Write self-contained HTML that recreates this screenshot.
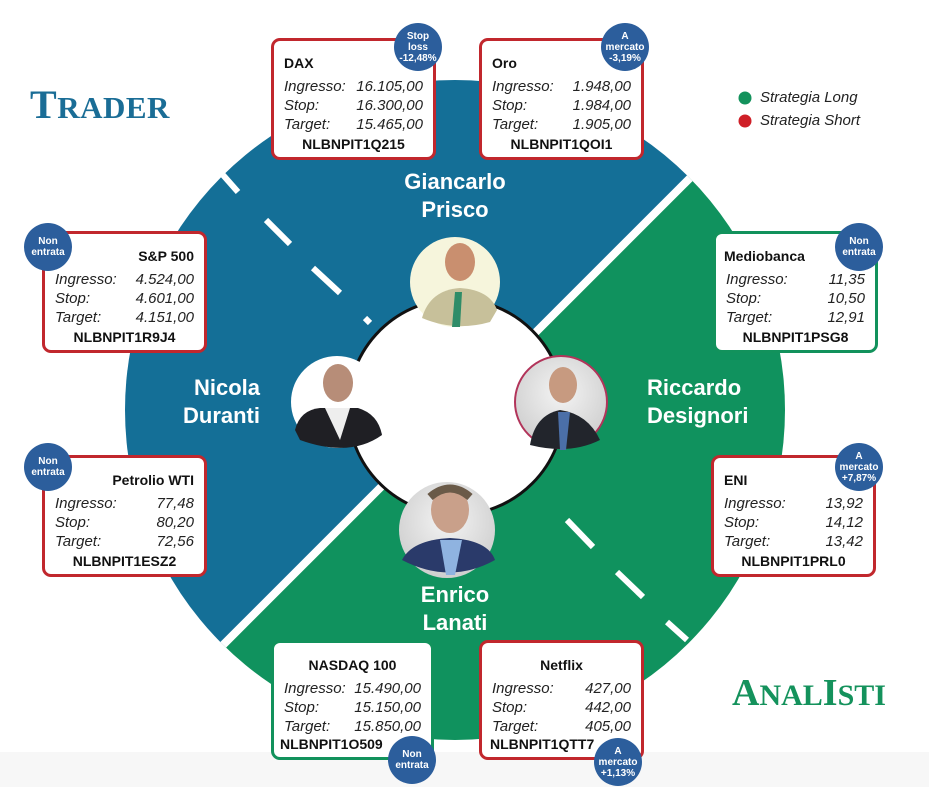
<!DOCTYPE html>
<html><head><meta charset="utf-8"><style>
html,body{margin:0;width:929px;height:787px;overflow:hidden}
body{background:#fff;font-family:"Liberation Sans",sans-serif;position:relative}
.box{position:absolute;background:#fff;border:3px solid #c1272d;border-radius:9px;box-sizing:border-box;width:165px;height:122px;color:#111}
.g{border-color:#12925c}
.t{position:absolute;top:14px;font-weight:bold;font-size:14px}
.r{position:absolute;left:10px;right:10px;font-style:italic;font-size:15px;color:#222;font-weight:300}
.r span{position:absolute;right:0}
.c{position:absolute;left:0;right:0;bottom:5px;text-align:center;font-weight:bold;font-size:14px}
.b{position:absolute;width:48px;height:48px;border-radius:50%;background:#2c5e9c;color:#fff;font-weight:bold;font-size:10px;line-height:11px;text-align:center;display:flex;align-items:center;justify-content:center}
.n{position:absolute;color:#fff;font-weight:bold;font-size:22px;line-height:28px}
</style></head><body>
<svg width="929" height="787" style="position:absolute;left:0;top:0">
<defs>
<clipPath id="cc"><circle cx="455" cy="410" r="330"/></clipPath>
<radialGradient id="pg" cx="50%" cy="40%" r="60%"><stop offset="0" stop-color="#f4f4f4"/><stop offset="1" stop-color="#cfcfcf"/></radialGradient>
</defs>
<rect x="0" y="752" width="929" height="35" fill="#f7f7f7"/>
<g clip-path="url(#cc)">
<polygon points="0,0 929,0 929,-61 -61,929 0,929" fill="#146f97"/>
<polygon points="0,868 868,0 929,0 929,787 0,787" fill="#10925e"/>
<line x1="0" y1="868" x2="868" y2="0" stroke="#fff" stroke-width="8"/>
</g>
<g stroke="#fff" stroke-width="6">
<line x1="223" y1="175" x2="238" y2="192"/><line x1="266" y1="220" x2="290" y2="244"/><line x1="313" y1="268" x2="340" y2="293"/><line x1="365" y1="318" x2="370" y2="323"/>
<line x1="567" y1="520" x2="593" y2="547"/><line x1="617" y1="572" x2="643" y2="597"/><line x1="667" y1="622" x2="687" y2="640"/>
</g>
<circle cx="456" cy="407" r="108" fill="#fff" stroke="#111" stroke-width="3"/>
<g>
<circle cx="455" cy="282" r="45" fill="#f6f5dc"/>
<ellipse cx="460" cy="262" rx="15" ry="19" fill="#c98f6f"/>
<path d="M422 318 Q430 290 460 288 Q490 290 497 310 L490 322 Q455 332 422 318Z" fill="#c7c09a"/>
<path d="M455 292 L462 292 L460 327 L452 327Z" fill="#2f8c68"/>
</g>
<g>
<circle cx="337" cy="402" r="46" fill="#fff"/>
<ellipse cx="338" cy="383" rx="15" ry="19" fill="#b78d78"/>
<path d="M295 430 Q300 410 320 408 L358 408 Q378 414 382 435 Q350 458 300 440Z" fill="#1f1f24"/>
<path d="M325 408 L350 408 L340 440Z" fill="#eee"/>
</g>
<g>
<circle cx="561" cy="402" r="46" fill="url(#pg)" stroke="#b2345a" stroke-width="2"/>
<ellipse cx="563" cy="385" rx="14" ry="18" fill="#c79a80"/>
<path d="M530 445 Q535 415 560 410 Q588 414 600 440 Q570 455 530 445Z" fill="#22252c"/>
<path d="M558 412 L570 412 L566 450 L560 450Z" fill="#4b6fa8"/>
</g>
<g>
<circle cx="447" cy="530" r="48" fill="url(#pg)"/>
<ellipse cx="450" cy="510" rx="19" ry="23" fill="#c9a08a"/>
<path d="M430 497 Q450 480 470 497" fill="none" stroke="#6a5a48" stroke-width="8"/>
<path d="M402 560 Q412 540 450 538 Q488 540 495 560 Q450 585 402 560Z" fill="#2a3a6a"/>
<path d="M440 540 L462 540 L455 575 L446 575Z" fill="#8fb3e0"/>
</g>
<circle cx="745" cy="98" r="6.5" fill="#13925c"/>
<circle cx="745" cy="121" r="6.5" fill="#cf1f27"/>
</svg>
<div style="position:absolute;left:760px;top:89px;font-style:italic;font-size:15px;color:#222">Strategia Long</div>
<div style="position:absolute;left:760px;top:112px;font-style:italic;font-size:15px;color:#222">Strategia Short</div>
<div style="position:absolute;left:30px;top:80px;font-family:'Liberation Serif',serif;font-weight:bold;font-size:40px;line-height:50px;color:#1a6d96;letter-spacing:0.5px">T<span style="font-size:31px">RADER</span></div>
<div style="position:absolute;left:732px;top:668px;font-family:'Liberation Serif',serif;font-weight:bold;font-size:38px;line-height:50px;color:#14925c">A<span style="font-size:30px">NAL</span>I<span style="font-size:30px">STI</span></div>

<div class="n" style="left:355px;width:200px;text-align:center;top:168px">Giancarlo<br>Prisco</div>
<div class="n" style="left:60px;width:200px;text-align:right;top:374px">Nicola<br>Duranti</div>
<div class="n" style="left:647px;top:374px">Riccardo<br>Designori</div>
<div class="n" style="left:355px;width:200px;text-align:center;top:581px">Enrico<br>Lanati</div>

<div class="box" style="left:271px;top:38px"><div class="t" style="left:10px">DAX</div>
<div class="r" style="top:37px">Ingresso:<span>16.105,00</span></div><div class="r" style="top:56px">Stop:<span>16.300,00</span></div><div class="r" style="top:75px">Target:<span>15.465,00</span></div><div class="c">NLBNPIT1Q215</div></div>
<div class="box" style="left:479px;top:38px"><div class="t" style="left:10px">Oro</div>
<div class="r" style="top:37px">Ingresso:<span>1.948,00</span></div><div class="r" style="top:56px">Stop:<span>1.984,00</span></div><div class="r" style="top:75px">Target:<span>1.905,00</span></div><div class="c">NLBNPIT1QOI1</div></div>
<div class="box" style="left:42px;top:231px"><div class="t" style="right:10px">S&amp;P 500</div>
<div class="r" style="top:37px">Ingresso:<span>4.524,00</span></div><div class="r" style="top:56px">Stop:<span>4.601,00</span></div><div class="r" style="top:75px">Target:<span>4.151,00</span></div><div class="c">NLBNPIT1R9J4</div></div>
<div class="box g" style="left:713px;top:231px"><div class="t" style="left:8px">Mediobanca</div>
<div class="r" style="top:37px">Ingresso:<span>11,35</span></div><div class="r" style="top:56px">Stop:<span>10,50</span></div><div class="r" style="top:75px">Target:<span>12,91</span></div><div class="c">NLBNPIT1PSG8</div></div>
<div class="box" style="left:42px;top:455px"><div class="t" style="right:10px">Petrolio WTI</div>
<div class="r" style="top:37px">Ingresso:<span>77,48</span></div><div class="r" style="top:56px">Stop:<span>80,20</span></div><div class="r" style="top:75px">Target:<span>72,56</span></div><div class="c">NLBNPIT1ESZ2</div></div>
<div class="box" style="left:711px;top:455px"><div class="t" style="left:10px">ENI</div>
<div class="r" style="top:37px">Ingresso:<span>13,92</span></div><div class="r" style="top:56px">Stop:<span>14,12</span></div><div class="r" style="top:75px">Target:<span>13,42</span></div><div class="c">NLBNPIT1PRL0</div></div>
<div class="box g" style="left:271px;top:640px;width:163px;height:120px"><div class="t" style="left:0;right:0;text-align:center">NASDAQ 100</div>
<div class="r" style="top:37px">Ingresso:<span>15.490,00</span></div><div class="r" style="top:56px">Stop:<span>15.150,00</span></div><div class="r" style="top:75px">Target:<span>15.850,00</span></div><div class="c" style="text-align:left;left:6px">NLBNPIT1O509</div></div>
<div class="box" style="left:479px;top:640px;height:120px"><div class="t" style="left:0;right:0;text-align:center">Netflix</div>
<div class="r" style="top:37px">Ingresso:<span>427,00</span></div><div class="r" style="top:56px">Stop:<span>442,00</span></div><div class="r" style="top:75px">Target:<span>405,00</span></div><div class="c" style="text-align:left;left:8px">NLBNPIT1QTT7</div></div>

<div class="b" style="left:394px;top:23px">Stop<br>loss<br>-12,48%</div>
<div class="b" style="left:601px;top:23px">A<br>mercato<br>-3,19%</div>
<div class="b" style="left:24px;top:223px">Non<br>entrata</div>
<div class="b" style="left:835px;top:223px">Non<br>entrata</div>
<div class="b" style="left:24px;top:443px">Non<br>entrata</div>
<div class="b" style="left:835px;top:443px">A<br>mercato<br>+7,87%</div>
<div class="b" style="left:388px;top:736px">Non<br>entrata</div>
<div class="b" style="left:594px;top:738px">A<br>mercato<br>+1,13%</div>
</body></html>
